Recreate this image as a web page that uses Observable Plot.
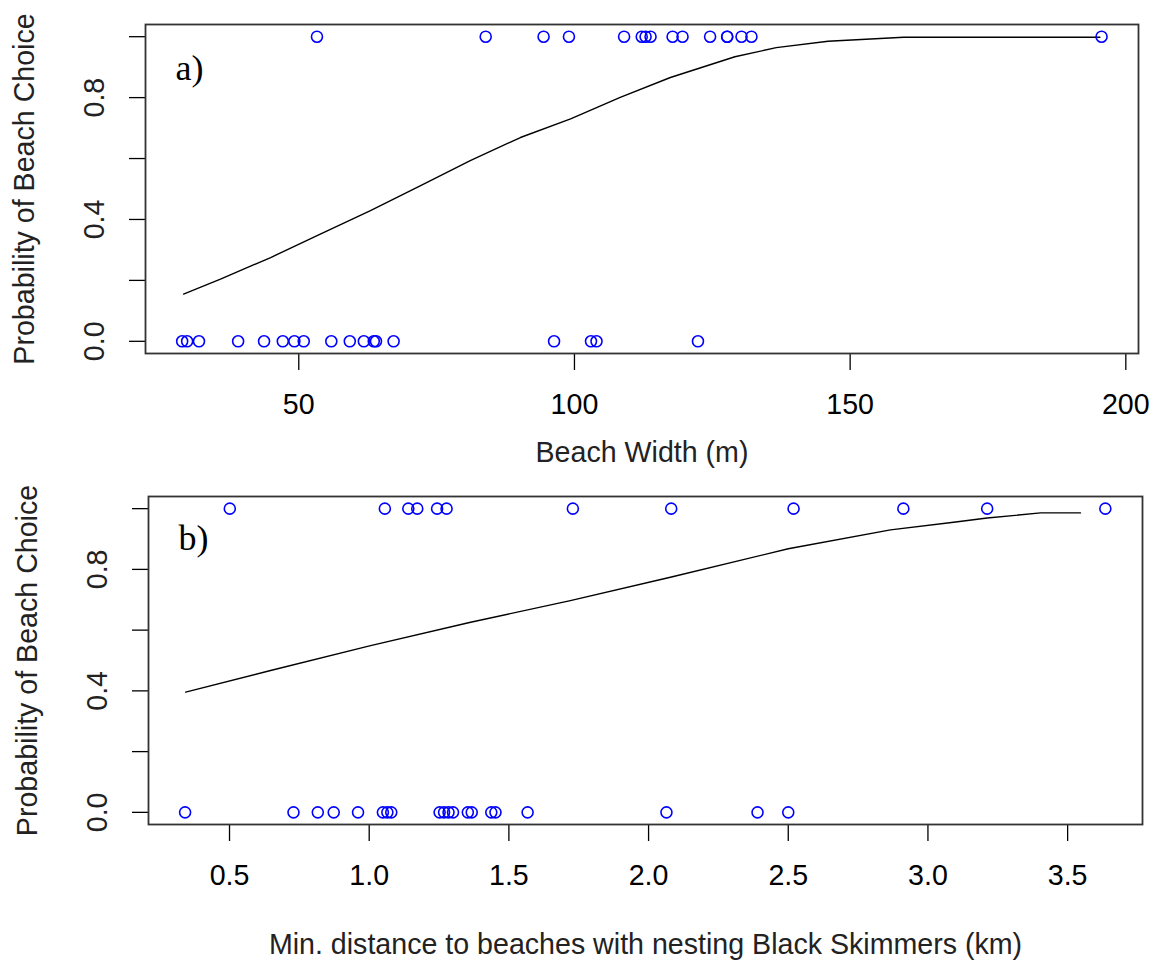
<!DOCTYPE html>
<html><head><meta charset="utf-8">
<script src="https://cdn.jsdelivr.net/npm/d3@7"></script>
<script src="https://cdn.jsdelivr.net/npm/@observablehq/plot@0.6"></script>
<style>
body{margin:0;background:#fff}
#chart{width:1158px;height:967px;background:#fff}
#chart svg{display:block}
</style>
</head><body><div id="chart"></div>
<script>
// ---- Panel a: Beach width (m) ----
const widthChosen = [53.3, 83.9, 94.4, 99.0, 109.0, 112.2, 112.9, 113.8, 117.8, 119.6, 124.6, 127.7, 127.7, 130.3, 132.1, 195.6];
const widthNotChosen = [28.85, 29.75, 31.9, 39.0, 43.7, 47.1, 49.2, 50.9, 55.9, 59.25, 61.8, 63.6, 64.0, 67.2, 96.3, 103.0, 104.0, 122.4];
const fitWidthX = [29.1, 35.8, 44.9, 53.9, 63.0, 72.1, 81.1, 90.2, 99.3, 108.3, 117.4, 129.1, 136.6, 146.0, 159.7, 195.3];
const fitWidthP = [0.155, 0.204, 0.275, 0.352, 0.429, 0.511, 0.593, 0.669, 0.730, 0.801, 0.866, 0.934, 0.964, 0.985, 0.998, 0.998];
const widthTicks = [50, 100, 150, 200];

// ---- Panel b: Min. distance to nesting beaches (km) ----
const distChosen = [0.501, 1.056, 1.140, 1.172, 1.243, 1.277, 1.729, 2.081, 2.519, 2.912, 3.212, 3.635];
const distNotChosen = [0.341, 0.729, 0.816, 0.873, 0.960, 1.049, 1.065, 1.079, 1.252, 1.268, 1.284, 1.300, 1.353, 1.367, 1.437, 1.452, 1.567, 2.064, 2.390, 2.500];
const fitDistX = [0.343, 0.647, 1.005, 1.363, 1.720, 2.078, 2.500, 2.866, 3.092, 3.212, 3.403, 3.546];
const fitDistP = [0.396, 0.467, 0.549, 0.626, 0.697, 0.774, 0.868, 0.930, 0.955, 0.969, 0.986, 0.986];
const distTicks = [0.5, 1.0, 1.5, 2.0, 2.5, 3.0, 3.5];

const probTicks = [0, 0.2, 0.4, 0.6, 0.8, 1.0];
const probLabelTicks = [0, 0.4, 0.8];
const yTitle = "Probability of Beach Choice";

const SANS = "'Liberation Sans', Arial, Helvetica, sans-serif";
const SERIF = "'Liberation Serif', 'Times New Roman', serif";
const FS = 28.6;

function panel(o) {
  const pts = [
    ...o.chosen.map(x => ({x, y: 1})),
    ...o.notChosen.map(x => ({x, y: 0}))
  ];
  const fit = o.fitX.map((x, i) => ({x, p: o.fitP[i]}));
  return Plot.plot({
    width: 1158,
    height: o.height,
    marginTop: o.mt, marginBottom: o.mb, marginLeft: o.ml, marginRight: o.mr,
    style: {fontFamily: SANS, fontSize: FS + "px", background: "#fff", color: "#000"},
    x: {domain: o.xDomain},
    y: {domain: [-0.04, 1.04]},
    marks: [
      Plot.axisX({ticks: o.xTicks, tickSize: 17, tickPadding: 23, tickFormat: o.xFmt,
                  fontSize: FS, label: null, stroke: "#000", strokeWidth: 1.3}),
      Plot.axisY({ticks: probTicks, tickSize: 16, tickFormat: () => "", label: null,
                  stroke: "#000", strokeWidth: 1.3}),
      Plot.text(probLabelTicks, {y: d => d, text: d => d.toFixed(1), frameAnchor: "left",
                  dx: -51, rotate: -90, textAnchor: "middle", lineAnchor: "middle", fontSize: FS, fill: "#222"}),
      Plot.text([yTitle], {frameAnchor: "left", dx: -121, rotate: -90, textAnchor: "middle",
                  lineAnchor: "middle", fontSize: FS, fill: "#222"}),
      Plot.text([o.xLabel], {frameAnchor: "bottom", dy: o.xTitleDy, textAnchor: "middle",
                  lineAnchor: "middle", fontSize: FS, fill: "#222"}),
      Plot.text([o.tag], {frameAnchor: "top-left", dx: 30, dy: o.tagDy, textAnchor: "start",
                  lineAnchor: "middle", fontSize: 36, fontFamily: SERIF, fill: "#000"}),
      Plot.line(fit, {x: "x", y: "p", stroke: "#000", strokeWidth: 1.4}),
      Plot.dot(pts, {x: "x", y: "y", r: 5.5, stroke: "#0000ff", fill: "none", strokeWidth: 1.6}),
      Plot.frame({stroke: "#333", strokeWidth: 1.8})
    ]
  });
}

const chart = document.getElementById("chart");
chart.appendChild(panel({
  chosen: widthChosen, notChosen: widthNotChosen, fitX: fitWidthX, fitP: fitWidthP,
  xDomain: [22.2, 202.3], xTicks: widthTicks, xFmt: d => String(d),
  xLabel: "Beach Width (m)", tag: "a)",
  height: 470, mt: 24, mb: 117, ml: 145, mr: 20, xTitleDy: 99, tagDy: 44
}));
chart.appendChild(panel({
  chosen: distChosen, notChosen: distNotChosen, fitX: fitDistX, fitP: fitDistP,
  xDomain: [0.21, 3.768], xTicks: distTicks, xFmt: d => d.toFixed(1),
  xLabel: "Min. distance to beaches with nesting Black Skimmers (km)", tag: "b)",
  height: 497, mt: 26, mb: 143, ml: 148, mr: 16, xTitleDy: 120, tagDy: 42
}));
</script></body></html>
